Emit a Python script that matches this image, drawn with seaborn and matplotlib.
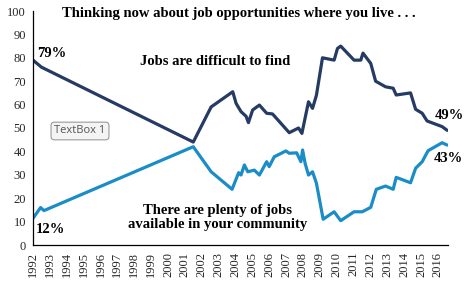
import matplotlib
matplotlib.use("Agg")
import matplotlib.pyplot as plt
import seaborn as sns
import pandas as pd

# Data
difficult_years = [1992.0, 1992.5, 2001.5, 2002.56, 2003.84, 2004.04, 2004.33, 2004.63, 2004.77,
                   2005.02, 2005.42, 2005.85, 2006.2, 2007.19, 2007.74, 2007.94, 2008.33, 2008.57,
                   2008.8, 2009.16, 2009.85, 2010.05, 2010.24, 2011.03, 2011.43, 2011.56, 2012.02,
                   2012.31, 2012.9, 2013.35, 2013.53, 2014.38, 2014.68, 2015.07, 2015.36, 2016.25,
                   2016.55]
difficult_vals = [79, 76, 44, 59, 65.5, 60.5, 57, 55, 52.3,
                  57.7, 59.8, 56.3, 56, 48, 50, 47.7, 61.2, 58.4,
                  64, 80, 79, 84, 85, 79, 79, 82, 77.6,
                  70, 67.6, 67, 64.1, 65, 58, 56.3, 53, 50.6,
                  49]

plenty_years = [1992.0, 1992.45, 1992.65, 2001.5, 2002.56, 2003.8, 2004.19, 2004.33, 2004.53,
                2004.73, 2005.12, 2005.42, 2005.85, 2006.0, 2006.3, 2006.99, 2007.19, 2007.63,
                2007.88, 2007.98, 2008.13, 2008.33, 2008.57, 2008.8, 2009.2, 2009.85, 2010.24,
                2011.03, 2011.52, 2012.02, 2012.35, 2012.9, 2013.35, 2013.53, 2014.38, 2014.68,
                2015.07, 2015.42, 2016.25, 2016.55]
plenty_vals = [11.4, 16, 14.7, 42, 31.3, 23.8, 30.9, 29.9, 34.2,
               31.3, 32, 29.9, 35.6, 33.5, 37.7, 40.2, 39.2, 39.4,
               35.6, 40.6, 34.9, 29.9, 31.3, 26.4, 11, 14.2, 10.4,
               14.2, 14.2, 16.1, 23.8, 25.2, 23.8, 28.9, 26.6, 32.8,
               35.6, 40.3, 43.7, 42.7]

year_ticks = list(range(1992, 2017))
y_ticks = list(range(0, 101, 10))

title_text = "Thinking now about job opportunities where you live . . ."
label_difficult = "Jobs are difficult to find"
label_plenty = "There are plenty of jobs\navailable in your community"

dark = "#253B63"
light = "#1A8DC8"

sns.set_style("white")
plt.rcParams['font.family'] = ['Liberation Serif', 'DejaVu Serif']

fig = plt.figure(figsize=(4.74, 2.84), dpi=100)
ax = fig.add_axes([33/474, 1-245/284, (448-33)/474, (245-11)/284])

df_d = pd.DataFrame({"year": difficult_years, "pct": difficult_vals})
df_p = pd.DataFrame({"year": plenty_years, "pct": plenty_vals})
sns.lineplot(data=df_d, x="year", y="pct", color=dark, linewidth=2.3, ax=ax, estimator=None)
sns.lineplot(data=df_p, x="year", y="pct", color=light, linewidth=2.3, ax=ax, estimator=None)

ax.set_xlim(1992, 2016.6)
ax.set_ylim(0, 100)
ax.set_xticks(year_ticks)
ax.set_xticklabels([str(y) for y in year_ticks], rotation=90, fontsize=9)
ax.set_yticks(y_ticks)
ax.set_yticklabels([str(y) for y in y_ticks], fontsize=9)
ax.set_xlabel("")
ax.set_ylabel("")
for s in ["top", "right"]:
    ax.spines[s].set_visible(False)
for s in ["left", "bottom"]:
    ax.spines[s].set_color("black")
    ax.spines[s].set_linewidth(0.9)
ax.tick_params(axis="both", direction="out", length=3, width=0.8, color="black", pad=2)

bold = dict(fontweight="bold", color="black", clip_on=False)
fig.text(239/474, 1-14/284, title_text, ha="center", va="center", fontsize=10.5,
         fontweight="bold", color="black")
ax.text(2002.8, 78.5, label_difficult, ha="center", va="center", fontsize=10.5, **bold)
ax.text(2002.93, 11.8, label_plenty, ha="center", va="center", fontsize=10.5, linespacing=1.15, **bold)
ax.text(1992.25, 82, "79%", ha="left", va="center", fontsize=10.5, **bold)
ax.text(1992.15, 6.8, "12%", ha="left", va="center", fontsize=10.5, **bold)
ax.text(2016.7, 55.5, "49%", ha="center", va="center", fontsize=10.5, **bold)
ax.text(2016.65, 36.8, "43%", ha="center", va="center", fontsize=10.5, **bold)

fig.text(80/474, 1-131/284, "TextBox 1", ha="center", va="center", fontsize=8,
         family=["Open Sans", "DejaVu Sans"], color="#555555",
         bbox=dict(boxstyle="round,pad=0.3", fc="#f4f4f4", ec="#9a9a9a", lw=0.8))

fig.savefig("out.png", dpi=100)
